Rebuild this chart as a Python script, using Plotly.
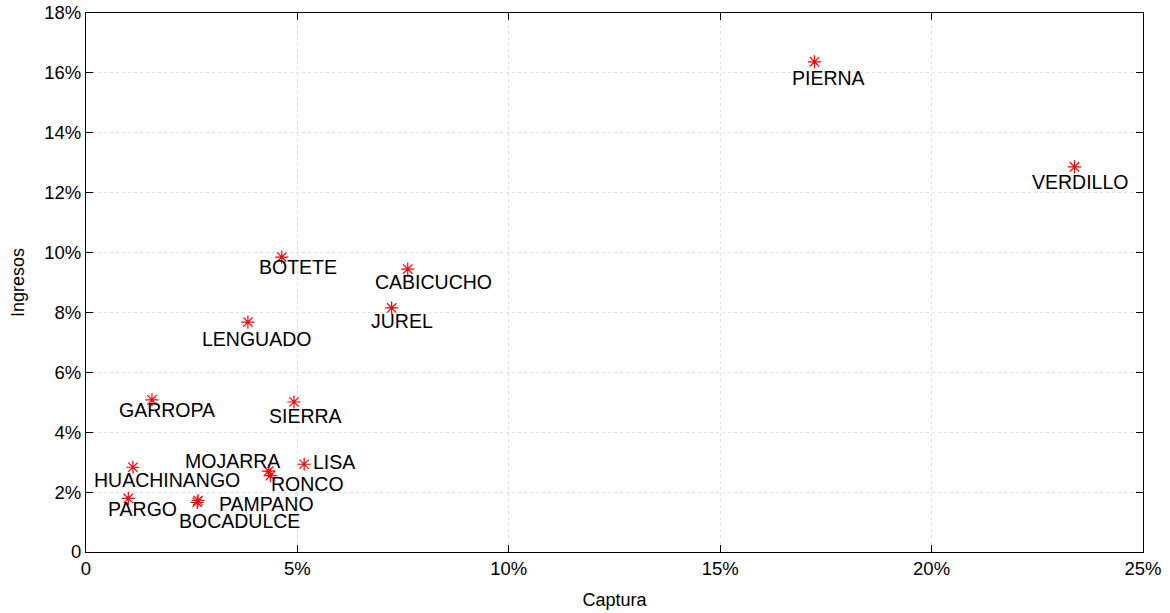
import plotly.graph_objects as go

# Species share of total catch (x) and of total income (y), in percent
especies = ["PIERNA", "VERDILLO", "BOTETE", "CABICUCHO", "JUREL", "LENGUADO",
            "GARROPA", "SIERRA", "HUACHINANGO", "MOJARRA", "LISA", "RONCO",
            "PARGO", "PAMPANO", "BOCADULCE"]
captura = [17.23, 23.38, 4.63, 7.61, 7.23, 3.83,
           1.56, 4.92, 1.11, 4.32, 5.16, 4.36,
           1.00, 2.65, 2.63]
ingresos = [16.37, 12.86, 9.85, 9.45, 8.15, 7.68,
            5.08, 5.01, 2.83, 2.70, 2.93, 2.55,
            1.79, 1.72, 1.66]

# Pixel offsets of each label from its point (x right, y down)
label_dx = [14, 5, 16, 26, 10, 9, 15, 11, 34, -36, 30, 37, 14, 68, 42]
label_dy = [16, 15, 10, 13, 13, 17, 10, 14, 13, -10, -2, 8, 11, 3, 19]

x_ticks = [0, 5, 10, 15, 20, 25]
x_ticktext = ["0", "5%", "10%", "15%", "20%", "25%"]
y_ticks = [0, 2, 4, 6, 8, 10, 12, 14, 16, 18]
y_ticktext = ["0", "2%", "4%", "6%", "8%", "10%", "12%", "14%", "16%", "18%"]

font_family = "Liberation Sans, Arial, sans-serif"

fig = go.Figure()
fig.add_trace(go.Scatter(
    x=captura, y=ingresos, mode="markers",
    marker=dict(symbol="asterisk-open", size=11, color="red",
                line=dict(color="red", width=1.2)),
    hoverinfo="skip", showlegend=False,
))

for name, xv, yv, dx, dy in zip(especies, captura, ingresos, label_dx, label_dy):
    fig.add_annotation(x=xv, y=yv, text=name, showarrow=False,
                       xanchor="center", yanchor="middle",
                       xshift=dx, yshift=-dy,
                       font=dict(family=font_family, size=19.5, color="black"))

axis_common = dict(
    showline=True, linecolor="black", linewidth=1, mirror="ticks",
    ticks="inside", ticklen=7, tickcolor="black",
    showgrid=True, gridcolor="#e0e0e0", griddash="3px,3px", gridwidth=1,
    zeroline=False, automargin=False,
    tickfont=dict(family=font_family, size=18.5, color="black"),
)

fig.update_xaxes(range=[0, 25], tickvals=x_ticks, ticktext=x_ticktext,
                 title=dict(text="Captura", standoff=15,
                            font=dict(family=font_family, size=18, color="black")),
                 **axis_common)
fig.update_yaxes(range=[0, 18], tickvals=y_ticks, ticktext=y_ticktext,
                 title=dict(text="Ingresos", standoff=14,
                            font=dict(family=font_family, size=18, color="black")),
                 **axis_common)

fig.update_layout(
    width=1170, height=613,
    margin=dict(l=86, r=27, t=13, b=61),
    plot_bgcolor="white", paper_bgcolor="white",
)

fig.write_html("out.html")
